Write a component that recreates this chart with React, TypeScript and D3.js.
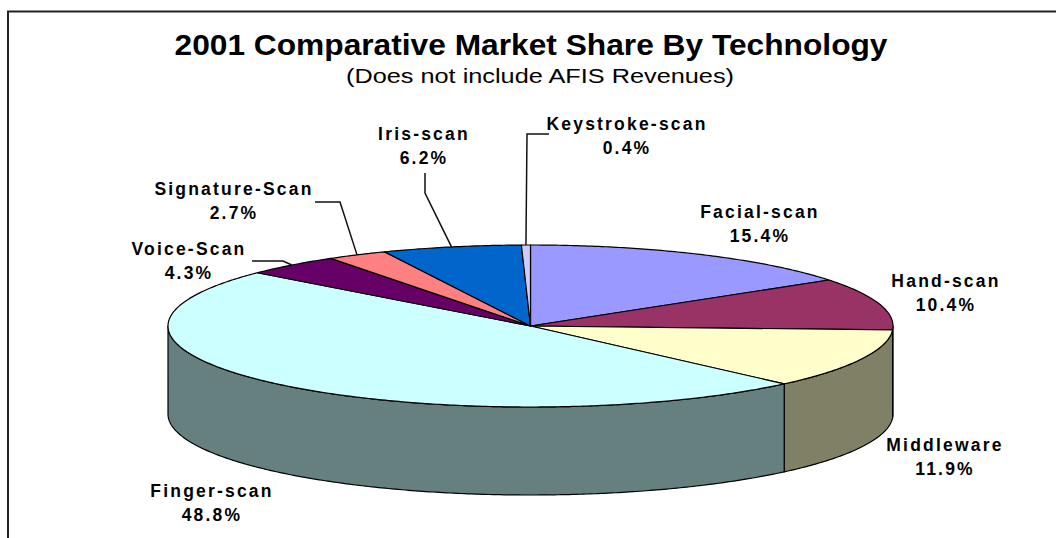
import React from "react";
import * as d3 from "d3";

const categories = ["Facial-scan", "Hand-scan", "Middleware", "Finger-scan", "Voice-Scan", "Signature-Scan", "Iris-scan", "Keystroke-scan"];
const shares = [15.4, 10.4, 11.9, 48.8, 4.3, 2.7, 6.2, 0.4];
const colors = ["#9999FF", "#993366", "#FFFFCC", "#CCFFFF", "#660066", "#FF8080", "#0066CC", "#CCCCFF"];
const titleText = "2001 Comparative Market Share By Technology";
const subtitleText = "(Does not include AFIS Revenues)";

// label layout (center x, first baseline y) and optional leader line start/elbow
const labelLayout = [
  { x: 760, y: 218 },
  { x: 946, y: 287 },
  { x: 945, y: 451 },
  { x: 212, y: 497 },
  { x: 189, y: 255, start: [252, 261], elbow: [283, 261] },
  { x: 234, y: 195, start: [315, 202], elbow: [340, 202] },
  { x: 424, y: 140, start: [425, 173], elbow: [425, 193] },
  { x: 627, y: 130, start: [549, 134], elbow: [527, 134] },
];

const W = 1056, H = 538;
const cx = 530.5, cy = 326, rx = 362.5, ry = 81, depth = 88;

function pt(a: number, f = 1): [number, number] {
  return [cx + rx * f * Math.sin(a), cy - ry * f * Math.cos(a)];
}
function arcPts(a0: number, a1: number, dy = 0): [number, number][] {
  const n = Math.max(2, Math.ceil(Math.abs(a1 - a0) / 0.01));
  const s = d3.scaleLinear().domain([0, n]).range([a0, a1]);
  return d3.range(n + 1).map((i) => {
    const p = pt(s(i));
    return [p[0], p[1] + dy] as [number, number];
  });
}
function darken(c: string) {
  const r = d3.rgb(c);
  return d3.rgb(r.r * 0.5, r.g * 0.5, r.b * 0.5).formatHex();
}

export default function App() {
  const pie = d3.pie<number>().sort(null).startAngle(0).endAngle(2 * Math.PI);
  const arcs = pie(shares);
  const line = d3.line();
  const fontFam = "'Liberation Sans', Arial, Helvetica, sans-serif";

  const sides = arcs
    .map((a, i) => {
      const s0 = Math.max(a.startAngle, Math.PI / 2);
      const s1 = Math.min(a.endAngle, (3 * Math.PI) / 2);
      if (s1 <= s0) return null;
      const top = arcPts(s0, s1);
      const bot = arcPts(s1, s0, depth);
      return { i, d: line([...top, ...bot])! + "Z" };
    })
    .filter(Boolean) as { i: number; d: string }[];

  const tops = arcs.map((a, i) => {
    const pts = [[cx, cy] as [number, number], ...arcPts(a.startAngle, a.endAngle)];
    return { i, d: line(pts)! + "Z" };
  });

  return (
    <svg width={W} height={H} style={{ position: "absolute", left: 0, top: 0, background: "#fff" }}>
      <rect x={0} y={0} width={W} height={H} fill="#fff" />
      <path d="M8,560 V11.5 H1080" fill="none" stroke="#222" strokeWidth={2} />
      <text x={531} y={55} textAnchor="middle" fontFamily={fontFam} fontWeight="bold" fontSize={30}
        textLength={713} lengthAdjust="spacingAndGlyphs" fill="#000">{titleText}</text>
      <text x={540} y={83} textAnchor="middle" fontFamily={fontFam} fontSize={21}
        textLength={388} lengthAdjust="spacingAndGlyphs" fill="#000">{subtitleText}</text>

      <g stroke="#000" strokeWidth={1.2} strokeLinejoin="round">
        {sides.map((s) => (
          <path key={"s" + s.i} d={s.d} fill={darken(colors[s.i])} />
        ))}
        {tops.map((t) => (
          <path key={"t" + t.i} d={t.d} fill={colors[t.i]} />
        ))}
      </g>

      <g fill="none" stroke="#111" strokeWidth={1.5}>
        {arcs.map((a, i) => {
          const L = labelLayout[i];
          if (!L.start) return null;
          const mid = (a.startAngle + a.endAngle) / 2;
          const edge = pt(mid);
          return <path key={"l" + i} d={line([L.start as [number, number], L.elbow as [number, number], edge])!} />;
        })}
      </g>

      <g fontFamily={fontFam} fontWeight="bold" fontSize={17.5} fill="#000" textAnchor="middle" style={{ letterSpacing: "2.2px" }}>
        {categories.map((c, i) => (
          <text key={"lab" + i} x={labelLayout[i].x} y={labelLayout[i].y}>
            <tspan x={labelLayout[i].x}>{c}</tspan>
            <tspan x={labelLayout[i].x} dy={23.5}>{shares[i].toFixed(1) + "%"}</tspan>
          </text>
        ))}
      </g>
    </svg>
  );
}
